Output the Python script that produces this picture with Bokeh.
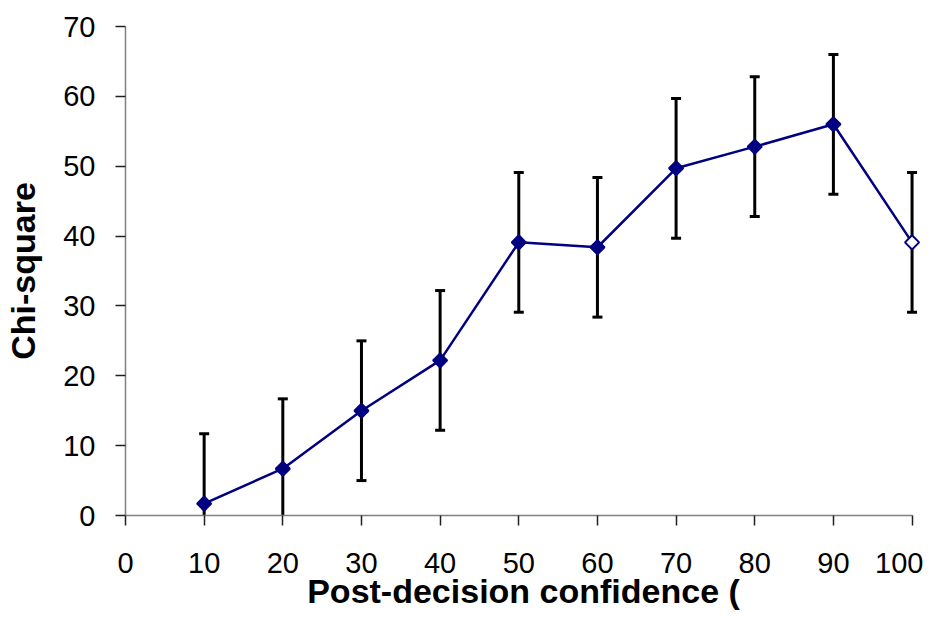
import math
from bokeh.plotting import figure
from bokeh.models import Range1d, FixedTicker, Whisker, ColumnDataSource, TeeHead
from bokeh.embed import file_html
from bokeh.resources import INLINE

confidence = [10, 20, 30, 40, 50, 60, 70, 80, 90, 100]
chi_square = [1.7, 6.7, 15.0, 22.2, 39.1, 38.4, 49.7, 52.8, 56.0, 39.1]
error = [10, 10, 10, 10, 10, 10, 10, 10, 10, 10]
x_ticks = [0, 10, 20, 30, 40, 50, 60, 70, 80, 90, 100]
y_ticks = [0, 10, 20, 30, 40, 50, 60, 70]

src = ColumnDataSource(dict(
    x=confidence, y=chi_square,
    lo=[v - e for v, e in zip(chi_square, error)],
    hi=[v + e for v, e in zip(chi_square, error)],
    fill=["#000080"] * 9 + ["white"],
))

p = figure(width=923, height=620, output_backend="svg", toolbar_location=None,
           x_range=Range1d(0, 101.2), y_range=Range1d(0, 70),
           min_border_left=125, min_border_right=2, min_border_top=26, min_border_bottom=105)
p.outline_line_color = None
p.xgrid.grid_line_color = None
p.ygrid.grid_line_color = None

w = Whisker(source=src, base="x", lower="lo", upper="hi", line_color="black", line_width=3,
            upper_head=TeeHead(size=10, line_color="black", line_width=3),
            lower_head=TeeHead(size=10, line_color="black", line_width=3))
p.add_layout(w)

p.line("x", "y", source=src, line_color="#000080", line_width=2.5)
p.scatter("x", "y", source=src, marker="square", angle=math.pi / 4, size=10,
          fill_color="fill", line_color="#000080", line_width=2)

for ax in (p.xaxis[0], p.yaxis[0]):
    ax.axis_line_color = "#808080"
    ax.axis_line_width = 1.5
    ax.major_tick_line_color = "#202020"
    ax.major_tick_line_width = 1.5
    ax.major_tick_in = 0
    ax.major_tick_out = 10
    ax.minor_tick_line_color = None
    ax.major_label_text_font = "Liberation Sans"
    ax.major_label_text_font_size = "29px"
    ax.major_label_text_color = "black"
    ax.axis_label_text_font = "Liberation Sans"
    ax.axis_label_text_font_style = "bold"
    ax.axis_label_text_font_size = "34px"
    ax.axis_label_text_color = "black"

p.xaxis.bounds = (0, 100)
p.xaxis.ticker = FixedTicker(ticks=x_ticks)
p.yaxis.ticker = FixedTicker(ticks=y_ticks)
p.xaxis.axis_label = "Post-decision confidence ("
p.yaxis.axis_label = "Chi-square"
p.xaxis.major_label_standoff = 27
p.yaxis.major_label_standoff = 20
p.xaxis.axis_label_standoff = -4
p.yaxis.axis_label_standoff = 18

open("out.html", "w").write(file_html(p, INLINE))
